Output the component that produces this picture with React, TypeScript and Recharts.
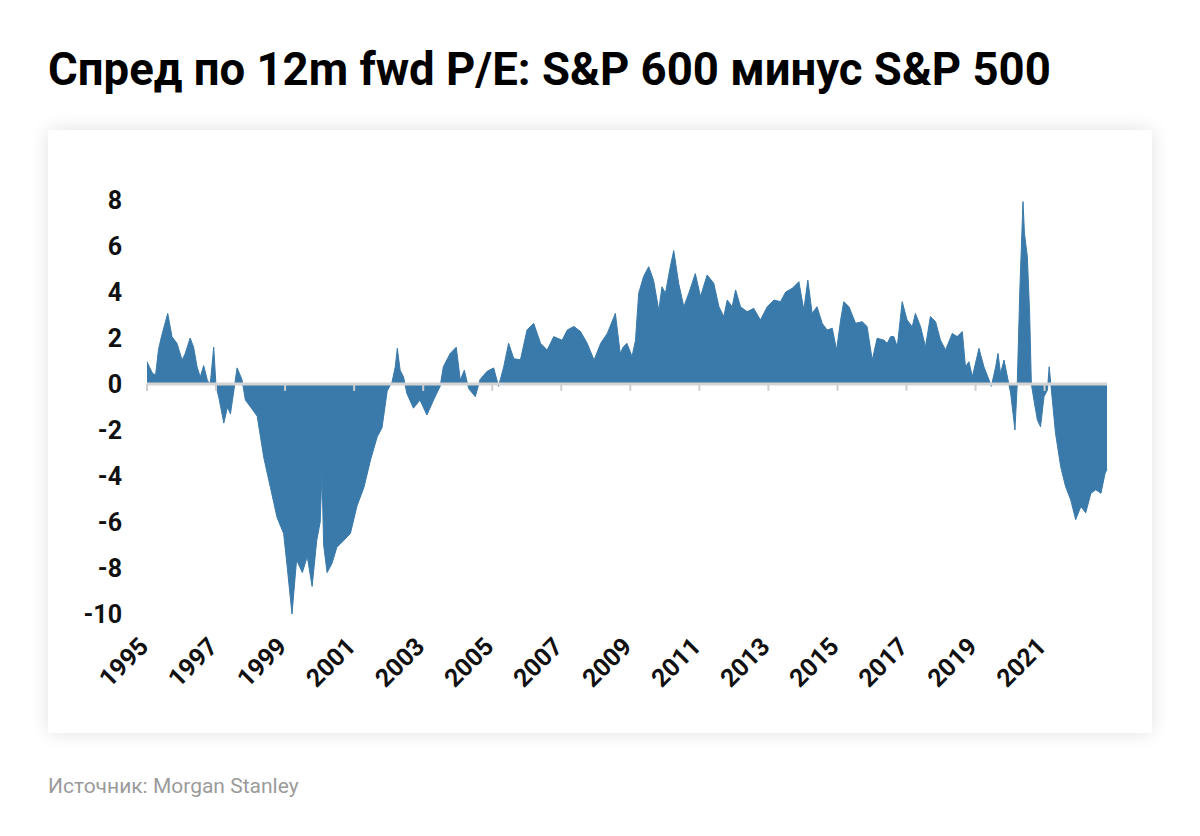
import React from 'react';
import { AreaChart, Area, XAxis, YAxis, ReferenceLine } from 'recharts';

// decimal years
const dates = [
  1995.0, 1995.083, 1995.167, 1995.25, 1995.333, 1995.417, 1995.6, 1995.725, 1995.867,
  1996.017, 1996.108, 1996.25, 1996.35, 1996.45, 1996.542, 1996.642, 1996.75, 1996.833, 1996.933,
  1997.0, 1997.083, 1997.225, 1997.333, 1997.417, 1997.525, 1997.608, 1997.75, 1997.85,
  1998.0, 1998.192, 1998.383, 1998.575, 1998.767, 1998.958,
  1999.058, 1999.2, 1999.333, 1999.5, 1999.642, 1999.783, 1999.917,
  2000.017, 2000.067, 2000.117, 2000.217, 2000.358, 2000.5, 2000.7, 2000.892,
  2001.083, 2001.283, 2001.475, 2001.667, 2001.808, 2001.958,
  2002.1, 2002.192, 2002.25, 2002.333, 2002.433, 2002.525, 2002.717, 2002.908,
  2003.108, 2003.3, 2003.492, 2003.583, 2003.783, 2003.958,
  2004.075, 2004.192, 2004.317, 2004.508, 2004.65, 2004.85,
  2005.042, 2005.183, 2005.333, 2005.475, 2005.625, 2005.817,
  2006.008, 2006.2, 2006.4, 2006.592, 2006.783,
  2007.025, 2007.175, 2007.367, 2007.558, 2007.75, 2007.95,
  2008.142, 2008.333, 2008.567, 2008.708, 2008.792, 2008.9,
  2009.05, 2009.15, 2009.242, 2009.383, 2009.533, 2009.675, 2009.825, 2009.917,
  2010.017, 2010.158, 2010.258, 2010.4, 2010.55, 2010.692, 2010.883,
  2011.033, 2011.225, 2011.417, 2011.567, 2011.708, 2011.808, 2011.95,
  2012.05, 2012.192, 2012.383, 2012.575, 2012.767, 2012.967,
  2013.158, 2013.35, 2013.5, 2013.692, 2013.883,
  2014.025, 2014.142, 2014.267, 2014.408, 2014.558, 2014.7, 2014.85, 2014.975,
  2015.092, 2015.183, 2015.333, 2015.525, 2015.717, 2015.858,
  2016.008, 2016.15, 2016.342, 2016.442, 2016.542, 2016.633, 2016.733, 2016.875,
  2017.017, 2017.167, 2017.258, 2017.408, 2017.55, 2017.692, 2017.842, 2017.983,
  2018.133, 2018.325, 2018.467, 2018.617, 2018.708, 2018.808, 2018.908,
  2019.1, 2019.242, 2019.392, 2019.458, 2019.583, 2019.65, 2019.725, 2019.825, 2019.942,
  2020.017, 2020.142, 2020.208, 2020.283, 2020.375, 2020.417, 2020.5, 2020.567, 2020.617,
  2020.692, 2020.792, 2020.883, 2020.983,
  2021.083, 2021.133, 2021.225, 2021.317, 2021.467, 2021.608, 2021.758, 2021.9,
  2022.05, 2022.192, 2022.342, 2022.483, 2022.633, 2022.75, 2022.808,
];

// S&P 600 minus S&P 500, 12m fwd P/E spread
const spread = [
  0.97, 0.7, 0.45, 0.4, 1.5, 2.05, 3.07, 2.05, 1.77,
  1.04, 1.33, 2.0, 1.6, 0.75, 0.3, 0.8, 0.15, 0.0, 1.6,
  -0.1, -0.6, -1.7, -1.0, -1.3, -0.2, 0.7, 0.2, -0.7,
  -1.0, -1.4, -3.2, -4.5, -5.8, -6.5,
  -7.9, -10.0, -7.65, -8.2, -7.5, -8.8, -6.8,
  -6.0, -3.9, -7.0, -8.2, -7.8, -7.1, -6.8, -6.5,
  -5.3, -4.5, -3.3, -2.3, -1.9, -0.3,
  0.1, 0.75, 1.55, 0.6, 0.3, -0.4, -1.05, -0.7,
  -1.35, -0.7, -0.1, 0.75, 1.33, 1.6,
  0.17, 0.6, -0.2, -0.55, 0.2, 0.55,
  0.7, -0.1, 0.75, 1.77, 1.1, 1.05,
  2.35, 2.64, 1.77, 1.48, 2.06,
  1.9, 2.35, 2.5, 2.28, 1.77, 1.04,
  1.77, 2.2, 3.07, 1.33, 1.6, 1.77,
  1.2, 1.9, 3.94, 4.67, 5.1, 4.5, 3.2, 4.23,
  3.94, 5.1, 5.8, 4.38, 3.36, 3.94, 4.8,
  3.8, 4.74, 4.38, 3.36, 2.93, 3.65, 3.36,
  4.09, 3.36, 3.14, 3.29, 2.78, 3.36,
  3.65, 3.58, 4.0, 4.16, 4.45,
  3.22, 4.52, 3.07, 3.36, 2.64, 2.35, 2.42, 1.48,
  2.78, 3.58, 3.36, 2.64, 2.71, 2.5,
  1.04, 1.99, 1.91, 1.77, 2.06, 2.06, 1.62, 3.58,
  2.78, 2.49, 3.07, 2.49, 1.62, 2.93, 2.71, 1.91,
  1.48, 2.2, 2.06, 2.28, 0.75, 0.97, 0.32,
  1.55, 0.75, 0.17, -0.1, 0.75, 1.33, 0.46, 1.04, 0.17,
  -0.4, -2.0, 0.0, 4.09, 7.93, 6.55, 5.54, 3.07, 0.0,
  -0.7, -1.57, -1.86, -0.55,
  -0.26, 0.75, -0.7, -2.14, -3.6, -4.46, -5.04, -5.9,
  -5.33, -5.6, -4.75, -4.6, -4.75, -3.9, -3.7,
];

const yearTicks = [1995, 1997, 1999, 2001, 2003, 2005, 2007, 2009, 2011, 2013, 2015, 2017, 2019, 2021];
const valueTicks = [-10, -8, -6, -4, -2, 0, 2, 4, 6, 8];

const data = dates.map((d, i) => ({ date: d, value: spread[i] }));

const YearTick = ({ x, y, payload }: any) => (
  <text
    x={x + 3}
    y={y}
    transform={`rotate(-45, ${x + 3}, ${y})`}
    textAnchor="end"
    fill="#111"
    fontSize={25}
    fontWeight={700}
    fontFamily="Roboto, sans-serif"
  >
    {payload.value}
  </text>
);

export default function App() {
  return (
    <div style={{ position: 'absolute', left: 0, top: 0, width: 1200, height: 836, background: '#fff', fontFamily: 'Roboto, sans-serif' }}>
      <div style={{ position: 'absolute', left: 48, top: 43, fontSize: 45.5, lineHeight: '54px', fontWeight: 700, color: '#000', whiteSpace: 'nowrap' }}>
        Спред по 12m fwd P/E: S&amp;P 600 минус S&amp;P 500
      </div>

      <div style={{ position: 'absolute', left: 48, top: 130, width: 1104, height: 603, background: '#fff', boxShadow: '0 0 18px rgba(0,0,0,0.12)' }}>
        <AreaChart width={1104} height={603} data={data} margin={{ top: 70, right: 45, bottom: 0, left: 0 }}>
          <XAxis
            dataKey="date"
            type="number"
            domain={[1995, 'dataMax']}
            ticks={yearTicks}
            interval={0}
            height={119}
            axisLine={false}
            tickLine={false}
            tickMargin={28}
            tick={<YearTick />}
          />
          <YAxis
            type="number"
            domain={[-10, 8]}
            ticks={valueTicks}
            interval={0}
            width={99}
            axisLine={false}
            tickLine={false}
            tickMargin={19}
            tick={{ fill: '#111', fontSize: 25, fontWeight: 700, fontFamily: 'Roboto, sans-serif' }}
          />
          <Area
            type="linear"
            dataKey="value"
            baseValue={0}
            stroke="#3a7aab"
            strokeWidth={1}
            fill="#3a7aab"
            fillOpacity={1}
            isAnimationActive={false}
          />
          <ReferenceLine y={0} stroke="#d4d4d4" strokeWidth={3} />
          {yearTicks.map((yr) => (
            <ReferenceLine
              key={yr}
              segment={[{ x: yr, y: 0 }, { x: yr, y: -0.3 }]}
              stroke="#cfcfcf"
              strokeWidth={2}
            />
          ))}
        </AreaChart>
      </div>

      <div style={{ position: 'absolute', left: 48, top: 774, fontSize: 21, lineHeight: '25px', color: '#9b9b9b', whiteSpace: 'nowrap' }}>
        Источник: Morgan Stanley
      </div>
    </div>
  );
}
